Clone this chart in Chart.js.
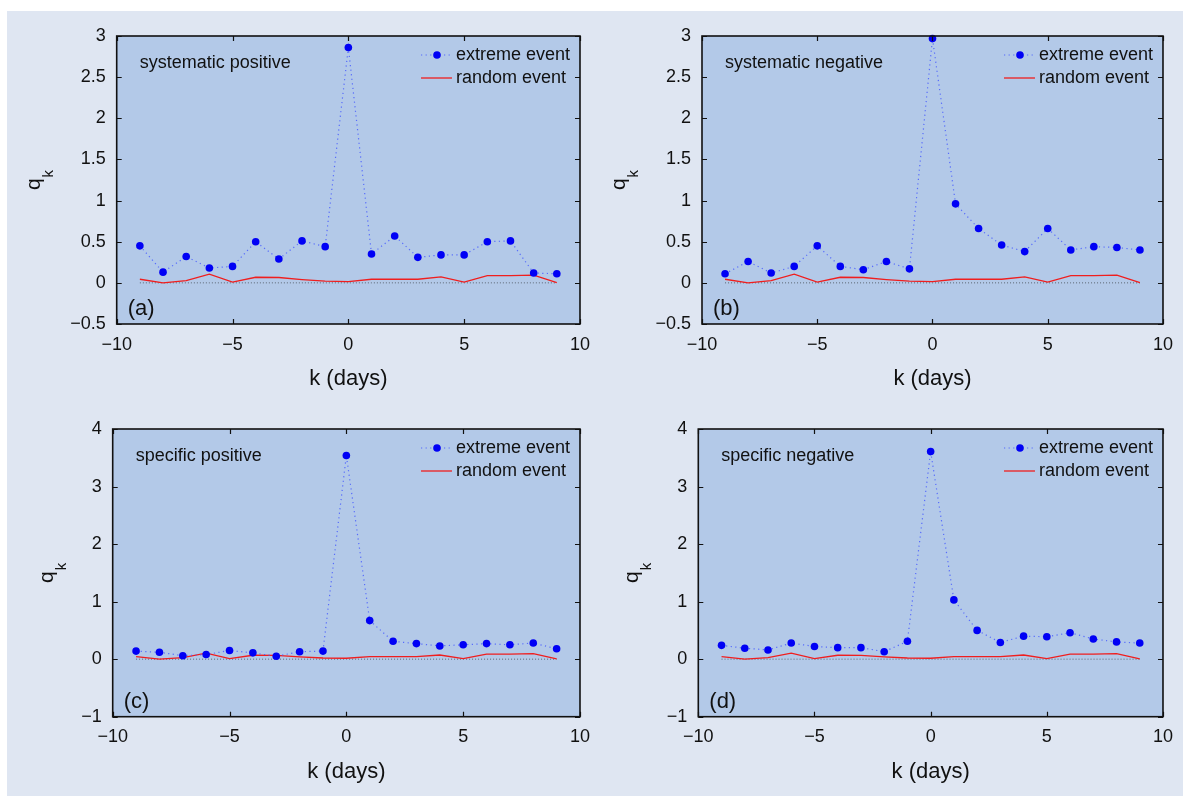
<!DOCTYPE html>
<html>
<head>
<meta charset="utf-8">
<script src="https://cdn.jsdelivr.net/npm/chart.js@4.4.0/dist/chart.umd.min.js"></script>
<style>
  html, body { margin: 0; padding: 0; background: #ffffff; }
  #page { position: absolute; left: 7px; top: 11px; width: 1176px; height: 785px; background: #dfe6f2; }
  canvas { position: absolute; }
</style>
</head>
<body>
<div id="page"></div>
<canvas id="panel-a" width="600" height="400" style="left:0px;top:0px"></canvas>
<canvas id="panel-b" width="597" height="400" style="left:586px;top:0px"></canvas>
<canvas id="panel-c" width="600" height="396" style="left:0px;top:400px"></canvas>
<canvas id="panel-d" width="597" height="396" style="left:586px;top:400px"></canvas>
<script>
// lag in days around the event
const kDays = [-9, -8, -7, -6, -5, -4, -3, -2, -1, 0, 1, 2, 3, 4, 5, 6, 7, 8, 9];
const xTicks = [-10, -5, 0, 5, 10];
const yTicksTop = [-0.5, 0, 0.5, 1, 1.5, 2, 2.5, 3];
const yTicksBottom = [-1, 0, 1, 2, 3, 4];

// q_k values
const systematicPositive = [0.45, 0.13, 0.32, 0.18, 0.20, 0.50, 0.29, 0.51, 0.44, 2.86, 0.35, 0.57, 0.31, 0.34, 0.34, 0.50, 0.51, 0.12, 0.11];
const systematicNegative = [0.11, 0.26, 0.12, 0.20, 0.45, 0.20, 0.16, 0.26, 0.17, 2.97, 0.96, 0.66, 0.46, 0.38, 0.66, 0.40, 0.44, 0.43, 0.40];
const specificPositive = [0.14, 0.12, 0.06, 0.08, 0.15, 0.11, 0.05, 0.13, 0.14, 3.54, 0.67, 0.31, 0.27, 0.23, 0.25, 0.27, 0.25, 0.28, 0.18];
const specificNegative = [0.24, 0.19, 0.16, 0.28, 0.22, 0.20, 0.20, 0.13, 0.31, 3.61, 1.03, 0.50, 0.29, 0.40, 0.39, 0.46, 0.35, 0.30, 0.28];
const randomEvent = [0.044, 0.0, 0.028, 0.105, 0.008, 0.068, 0.065, 0.040, 0.020, 0.016, 0.044, 0.044, 0.044, 0.072, 0.008, 0.089, 0.089, 0.095, 0.004];
const zeroLevel = [0, 0, 0, 0, 0, 0, 0, 0, 0, 0, 0, 0, 0, 0, 0, 0, 0, 0, 0];

const FONT = '"Liberation Sans", Arial, Helvetica, sans-serif';
const PLOT_BG = '#b3c9e8';
const MARKER_BLUE = '#0000f5';
const DOT_BLUE = 'rgba(70, 90, 255, 0.85)';
const RED = '#f01e1e';

function toPoints(values) {
  return kDays.map((k, i) => ({ x: k, y: values[i] }));
}

function fmt(value) {
  return String(value).replace('-', '\u2212');
}

// background, frame, inner ticks, labels and legend of one panel
const panelPlugin = {
  id: 'panelDecor',
  beforeDraw(chart) {
    const a = chart.chartArea;
    const ctx = chart.ctx;
    ctx.save();
    ctx.fillStyle = PLOT_BG;
    ctx.fillRect(a.left, a.top, a.right - a.left, a.bottom - a.top);
    ctx.restore();
  },
  afterDraw(chart) {
    const a = chart.chartArea;
    const ctx = chart.ctx;
    const p = chart.options.plugins.panelDecor;
    const xs = chart.scales.x;
    const ys = chart.scales.y;
    ctx.save();

    // inner tick marks on all four sides
    ctx.strokeStyle = '#111';
    ctx.lineWidth = 1.2;
    ctx.beginPath();
    xs.ticks.forEach((t) => {
      const px = Math.round(xs.getPixelForValue(t.value)) + 0.5;
      ctx.moveTo(px, a.bottom); ctx.lineTo(px, a.bottom - 5);
      ctx.moveTo(px, a.top); ctx.lineTo(px, a.top + 5);
    });
    ys.ticks.forEach((t) => {
      const py = Math.round(ys.getPixelForValue(t.value)) + 0.5;
      ctx.moveTo(a.left, py); ctx.lineTo(a.left + 5, py);
      ctx.moveTo(a.right, py); ctx.lineTo(a.right - 5, py);
    });
    ctx.stroke();

    // frame
    ctx.lineWidth = 1.6;
    ctx.strokeRect(a.left, a.top, a.right - a.left, a.bottom - a.top);

    ctx.fillStyle = '#111';
    // panel caption and tag
    ctx.font = '18px ' + FONT;
    ctx.textBaseline = 'middle';
    ctx.textAlign = 'left';
    ctx.fillText(p.title, a.left + 23, a.top + 27);
    ctx.font = '22px ' + FONT;
    ctx.fillText(p.tag, a.left + 11, a.bottom - 15);

    // x axis title
    ctx.textAlign = 'center';
    ctx.fillText('k (days)', (a.left + a.right) / 2, a.bottom + 55);

    // y axis title q_k
    ctx.translate(a.left - p.qOffset, (a.top + a.bottom) / 2);
    ctx.rotate(-Math.PI / 2);
    ctx.textAlign = 'left';
    ctx.textBaseline = 'alphabetic';
    ctx.font = '21px ' + FONT;
    const qw = ctx.measureText('q').width;
    ctx.font = '15px ' + FONT;
    const kw = ctx.measureText('k').width;
    const start = -(qw + kw + 1) / 2;
    ctx.font = '21px ' + FONT;
    ctx.fillText('q', start, 0);
    ctx.font = '15px ' + FONT;
    ctx.fillText('k', start + qw + 1, 13);
    ctx.setTransform(1, 0, 0, 1, 0, 0);

    // legend
    const tx = a.right - 124;
    const y1 = a.top + 19;
    const y2 = a.top + 42;
    ctx.font = '18px ' + FONT;
    ctx.textBaseline = 'middle';
    ctx.textAlign = 'left';
    ctx.fillText('extreme event', tx, y1);
    ctx.fillText('random event', tx, y2);
    ctx.strokeStyle = DOT_BLUE;
    ctx.lineWidth = 1.2;
    ctx.setLineDash([1.2, 3.4]);
    ctx.beginPath();
    ctx.moveTo(tx - 35, y1); ctx.lineTo(tx - 5, y1);
    ctx.stroke();
    ctx.setLineDash([]);
    ctx.fillStyle = MARKER_BLUE;
    ctx.beginPath();
    ctx.arc(tx - 19, y1, 3.8, 0, Math.PI * 2);
    ctx.fill();
    ctx.strokeStyle = RED;
    ctx.lineWidth = 1.3;
    ctx.beginPath();
    ctx.moveTo(tx - 35, y2); ctx.lineTo(tx - 4, y2);
    ctx.stroke();
    ctx.restore();
  }
};

const panels = [
  { id: 'panel-a', w: 600, h: 400, title: 'systematic positive', tag: '(a)', values: systematicPositive,
    yMin: -0.5, yMax: 3, yTicks: yTicksTop, area: { left: 116.7, top: 36, right: 582, bottom: 324 }, qOffset: 77 },
  { id: 'panel-b', w: 597, h: 400, title: 'systematic negative', tag: '(b)', values: systematicNegative,
    yMin: -0.5, yMax: 3, yTicks: yTicksTop, area: { left: 116, top: 36, right: 581.7, bottom: 324 }, qOffset: 77 },
  { id: 'panel-c', w: 600, h: 396, title: 'specific positive', tag: '(c)', values: specificPositive,
    yMin: -1, yMax: 4, yTicks: yTicksBottom, area: { left: 112.7, top: 29, right: 582.3, bottom: 316.7 }, qOffset: 60 },
  { id: 'panel-d', w: 597, h: 396, title: 'specific negative', tag: '(d)', values: specificNegative,
    yMin: -1, yMax: 4, yTicks: yTicksBottom, area: { left: 112.3, top: 29, right: 581.7, bottom: 316.7 }, qOffset: 60 }
];

panels.forEach((p) => {
  const tickFont = { family: FONT, size: 18 };
  new Chart(document.getElementById(p.id), {
    type: 'line',
    data: {
      datasets: [
        {
          label: 'extreme event',
          data: toPoints(p.values),
          borderColor: DOT_BLUE,
          borderDash: [1.2, 3.4],
          borderWidth: 1.2,
          pointRadius: 3.8,
          pointBackgroundColor: MARKER_BLUE,
          pointBorderWidth: 0,
          clip: 8
        },
        {
          label: 'random event',
          data: toPoints(randomEvent),
          borderColor: RED,
          borderWidth: 1.3,
          pointRadius: 0
        },
        {
          label: 'zero',
          data: toPoints(zeroLevel),
          borderColor: '#5a6470',
          borderDash: [1, 2],
          borderWidth: 1,
          pointRadius: 0
        }
      ]
    },
    options: {
      responsive: false,
      animation: false,
      events: [],
      layout: { padding: { left: 0, top: p.area.top, right: p.w - p.area.right, bottom: 0 } },
      plugins: {
        legend: { display: false },
        tooltip: { enabled: false },
        panelDecor: { title: p.title, tag: p.tag, qOffset: p.qOffset }
      },
      scales: {
        x: {
          type: 'linear',
          min: -10,
          max: 10,
          afterBuildTicks: (s) => { s.ticks = xTicks.map((v) => ({ value: v })); },
          afterFit: (s) => { s.height = p.h - p.area.bottom; },
          grid: { display: false, drawTicks: false },
          border: { display: false },
          ticks: { padding: 10, color: '#111', font: tickFont, maxRotation: 0, autoSkip: false, callback: fmt }
        },
        y: {
          type: 'linear',
          min: p.yMin,
          max: p.yMax,
          afterBuildTicks: (s) => { s.ticks = p.yTicks.map((v) => ({ value: v })); },
          afterFit: (s) => { s.width = p.area.left; },
          grid: { display: false, drawTicks: false },
          border: { display: false },
          ticks: { padding: 11, color: '#111', font: tickFont, autoSkip: false, callback: fmt }
        }
      }
    },
    plugins: [panelPlugin]
  });
});
</script>
</body>
</html>
